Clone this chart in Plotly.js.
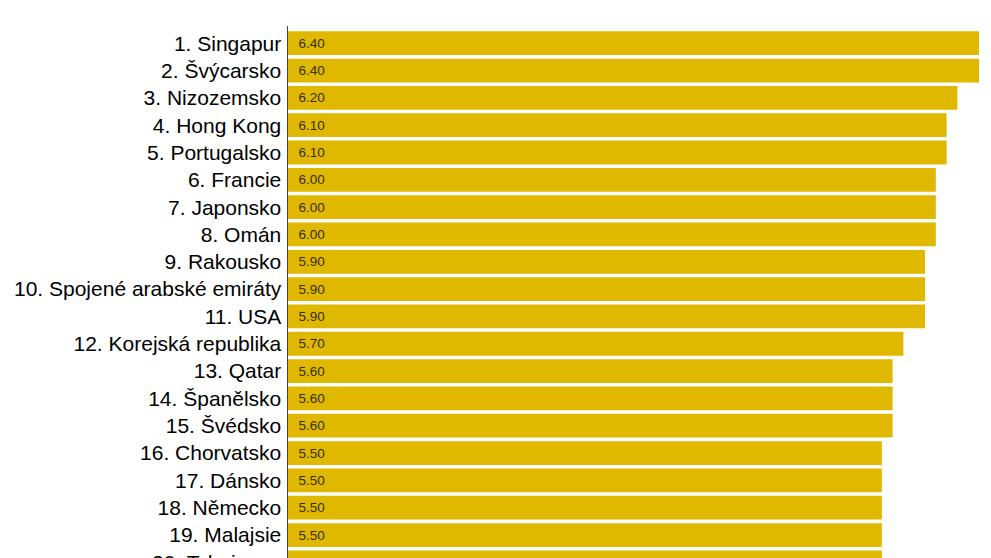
<!DOCTYPE html>
<html>
<head>
<meta charset="utf-8">
<script src="https://cdn.plot.ly/plotly-3.0.1.min.js"></script>
<style>
  html, body { margin: 0; padding: 0; background: #fff; overflow: hidden; }
  #chart { width: 991px; height: 576px; }
</style>
</head>
<body>
<div id="chart"></div>
<script>
// ranking labels, top to bottom
const countries = [
    '1. Singapur', '2. Švýcarsko', '3. Nizozemsko', '4. Hong Kong', '5. Portugalsko',
    '6. Francie', '7. Japonsko', '8. Omán', '9. Rakousko', '10. Spojené arabské emiráty',
    '11. USA', '12. Korejská republika', '13. Qatar', '14. Španělsko', '15. Švédsko',
    '16. Chorvatsko', '17. Dánsko', '18. Německo', '19. Malajsie', '20. Tchaj-wan'
]
const scores = [
    6.40, 6.40, 6.20, 6.10, 6.10,
    6.00, 6.00, 6.00, 5.90, 5.90,
    5.90, 5.70, 5.60, 5.60, 5.60,
    5.50, 5.50, 5.50, 5.50, 5.50
]

const chart = document.getElementById('chart')

// value labels sit a little in from the bar start
const trace = {
    type: 'bar',
    orientation: 'h',
    x: scores,
    y: countries,
    text: scores.map(v => '\u00a0\u00a0' + v.toFixed(2)),
    textposition: 'inside',
    insidetextanchor: 'start',
    textfont: { family: 'Liberation Sans, Arial, sans-serif', size: 13.5, color: '#352e00' },
    marker: { color: '#E1B800' },
    hoverinfo: 'none'
}

const layout = {
    width: 991,
    height: 576,
    margin: { l: 288, r: 12, t: 26, b: 0 },
    bargap: 0.13,
    showlegend: false,
    paper_bgcolor: '#ffffff',
    plot_bgcolor: '#ffffff',
    xaxis: {
        range: [0, 6.4],
        visible: false,
        fixedrange: true
    },
    yaxis: {
        type: 'category',
        range: [19.5, -0.63],
        showline: true,
        linecolor: '#444',
        linewidth: 1.5,
        showgrid: false,
        zeroline: false,
        ticks: '',
        ticklabelstandoff: 1,
        tickfont: { family: 'Liberation Sans, Arial, sans-serif', size: 21, color: '#000' },
        fixedrange: true
    }
}

Plotly.newPlot(chart, [trace], layout, { displayModeBar: false, staticPlot: true })
</script>
</body>
</html>
